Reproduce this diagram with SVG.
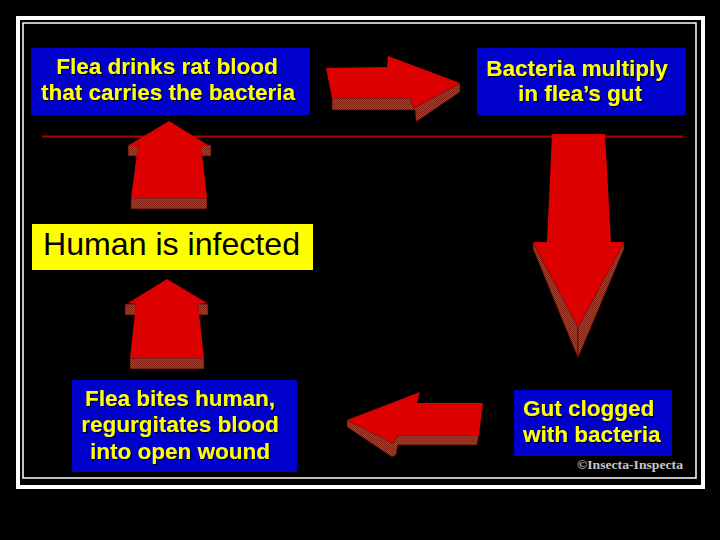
<svg xmlns="http://www.w3.org/2000/svg" width="720" height="540" viewBox="0 0 720 540">
<defs>
<pattern id="dith" width="2" height="2" patternUnits="userSpaceOnUse">
<rect width="2" height="2" fill="#c83018"/>
<rect width="1" height="1" fill="#842010"/>
<rect x="1" y="1" width="1" height="1" fill="#902410"/>
</pattern>
<filter id="sh" x="-5%" y="-20%" width="110%" height="140%">
<feDropShadow dx="1" dy="1" stdDeviation="0.4" flood-color="#000" flood-opacity="0.9"/>
</filter>
</defs>
<style>
.box{fill:#0000cc}
.yt{font-family:"Liberation Sans",Arial,sans-serif;font-weight:bold;font-size:22.5px;fill:#ffff00;filter:url(#sh)}
.face{fill:#dc0000}
.side{fill:url(#dith);stroke:#400000;stroke-width:0.6}
</style>
<rect x="0" y="0" width="720" height="540" fill="#000"/>
<rect x="18" y="18" width="685" height="469" fill="#000" stroke="#fff" stroke-width="4"/>
<rect x="23" y="23" width="673" height="455" fill="none" stroke="#fff" stroke-width="1.5"/>
<line x1="42" y1="136.5" x2="683" y2="136.5" stroke="#b00000" stroke-width="2"/>

<g id="connectors">
<g id="arrow-right">
<polygon class="side" points="332,98 410,98 414,108 460,83 460,92 416,122 415,110 332,110"/>
<polygon class="face" points="326,68 387,67 388,56 460,83 414,108 410,98 332,98"/>
</g>
<g id="arrow-down">
<polygon class="side" points="533,242 578,327 578,358 533,249"/>
<polygon class="side" points="624,242 578,327 578,358 624,249"/>
<polygon class="face" points="552,134 605,134 611,242 624,242 578,327 533,242 547,242"/>
</g>
<g id="arrow-left">
<polygon class="side" points="347,420 393,443 398,435 479,435 477,445 398,445 396,455 392,457 347,427"/>
<polygon class="face" points="347,420 420,392 417,403 483,403 479,435 398,435 393,443"/>
</g>
<g id="arrow-up-lower">
<rect class="side" x="125" y="304" width="11" height="11"/>
<rect class="side" x="198" y="304" width="10" height="11"/>
<rect class="side" x="130" y="358" width="74" height="11"/>
<polygon class="face" points="167,279 207,303 198,304 204,358 130,358 136,304 128,303"/>
</g>
<g id="arrow-up-upper">
<rect class="side" x="128" y="145" width="10" height="11"/>
<rect class="side" x="201" y="145" width="10" height="11"/>
<rect class="side" x="131" y="198" width="76" height="11"/>
<polygon class="face" points="169,121 208,145 201,145 207,198 131,198 138,145 129,145"/>
</g>
</g>

<g id="node-flea-drinks">
<rect class="box" x="31" y="48" width="279" height="67"/>
<text class="yt" x="167" y="74" text-anchor="middle">Flea drinks rat blood</text>
<text class="yt" x="168" y="100" text-anchor="middle">that carries the bacteria</text>
</g>
<g id="node-bacteria-multiply">
<rect class="box" x="477" y="48" width="209" height="67"/>
<text class="yt" x="577" y="76" text-anchor="middle">Bacteria multiply</text>
<text class="yt" x="580" y="101" text-anchor="middle">in flea’s gut</text>
</g>
<g id="node-human-infected">
<rect x="32" y="224" width="281" height="46" fill="#ffff00"/>
<text x="43" y="255" font-family="Liberation Sans, Arial, sans-serif" font-size="31.5" fill="#000" textLength="257" lengthAdjust="spacingAndGlyphs">Human is infected</text>
</g>
<g id="node-flea-bites">
<rect class="box" x="72" y="380" width="225" height="92"/>
<text class="yt" x="180" y="406" text-anchor="middle">Flea bites human,</text>
<text class="yt" x="180" y="432" text-anchor="middle">regurgitates blood</text>
<text class="yt" x="180" y="459" text-anchor="middle">into open wound</text>
</g>
<g id="node-gut-clogged">
<rect class="box" x="514" y="390" width="158" height="66"/>
<text class="yt" x="523" y="416">Gut clogged</text>
<text class="yt" x="523" y="442">with bacteria</text>
</g>
<text x="577" y="469" font-family="Liberation Serif, 'Times New Roman', serif" font-size="13.5" font-weight="bold" fill="#c8c8c8" textLength="106" lengthAdjust="spacingAndGlyphs">©Insecta-Inspecta</text>
</svg>
